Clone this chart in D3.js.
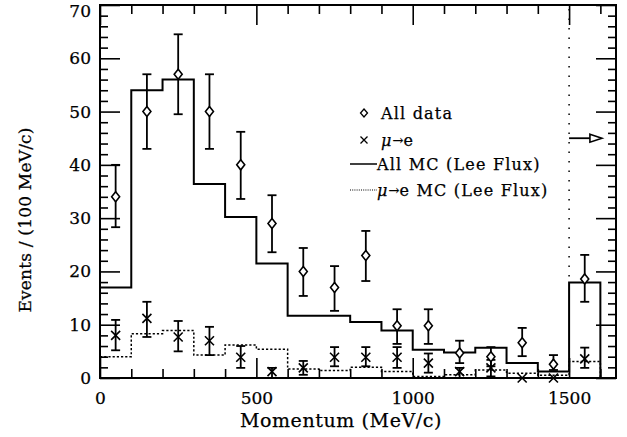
<!DOCTYPE html>
<html>
<head>
<meta charset="utf-8">
<script src="https://cdn.jsdelivr.net/npm/d3@7"></script>
<style>
  body { margin: 0; background: #fff; }
  svg { display: block; }
  text { font-family: "DejaVu Serif", serif; fill: #000; stroke: #000; stroke-width: 0.25; }
</style>
</head>
<body>
<svg id="chart" width="627" height="437"></svg>
<script>
// bin centres (MeV/c), 100 MeV/c wide
const momentum = [50, 150, 250, 350, 450, 550, 650, 750, 850, 950, 1050, 1150, 1250, 1350, 1450, 1550];

// all data (diamonds) with error bar ends
const allData = [34, 50, 57, 50, 40, 29, 20, 17, 23, 9.8, 9.8, 4.7, 4, 6.6, 2.6, 18.6];
const allLow  = [28.3, 43, 49.5, 43, 33.6, 23.6, 15.4, 12.6, 18.2, 6.4, 6.4, 2.8, 2.2, 4.1, 1.5, 14.3];
const allHigh = [40, 57, 64.5, 57, 46.2, 34.3, 24.4, 21, 27.6, 12.9, 12.9, 7, 5.8, 9.4, 4.3, 23.1];

// mu -> e events (crosses)
const muData = [8, 11.2, 7.7, 7, 3.9, 1.2, 1.9, 3.9, 3.9, 3.9, 2.8, 1.2, 1.9, 0, 0, 3.6];
const muLow  = [5.2, 7.7, 5, 4.3, 1.9, 0, 0.6, 2.2, 2.2, 1.9, 1, 0, 0.3, null, null, 1.9];
const muHigh = [10.9, 14.3, 10.7, 9.6, 6, 1.9, 3.2, 5.8, 5.8, 5.8, 4.6, 1.9, 3.4, null, null, 5.7];

// Monte Carlo histograms (Lee flux)
const mcAll = [17, 54, 56, 36.4, 30.2, 21.5, 11.7, 11.7, 10.5, 8.9, 5.3, 4.8, 5.7, 2.8, 1.2, 17.9];
const mcMu  = [4, 8.3, 8.9, 4.3, 6.2, 5.4, 1.7, 1.4, 2.0, 1.2, 0.3, 0.6, 1.5, 0.9, 0.5, 3.1];

const xMajor = [0, 500, 1000, 1500];
const yMajor = [0, 10, 20, 30, 40, 50, 60, 70];

// overflow marker: cut at 1500 MeV/c, arrow at 45 events
const overflowCut = 1500;
const overflowArrowEnd = 1605;
const overflowLevel = 45;

const legendLabels = ['All data', 'e', 'All MC (Lee Flux)', 'e MC (Lee Flux)'];

class MomentumPlot {
  constructor(id) {
    this.svg = d3.select('#' + id);
    this.left = 100;
    this.right = 616;
    this.top = 5;
    this.bottom = 378;
    this.x = d3.scaleLinear().domain([0, 1650]).range([this.left, this.right]);
    this.y = d3.scaleLinear().domain([0, 70]).range([this.bottom, this.top]);
    this.binWidth = 100;
  }

  draw() {
    this.drawAxes();
    this.drawHistogram(mcAll, null);
    this.drawHistogram(mcMu, '2.2,2');
    this.drawOverflow();
    this.drawCrosses();
    this.drawDiamonds();
    this.drawLegend();
    this.drawTitles();
  }

  drawAxes() {
    var x = this.x, y = this.y;
    var xMinor = d3.range(100, 1700, 100).filter(d => xMajor.indexOf(d) < 0);
    var yMinor = d3.range(0, 71, 2).filter(d => d % 10 !== 0);

    var add = (axis, tx, ty, labels) => {
      var g = this.svg.append('g')
          .attr('transform', 'translate(' + tx + ',' + ty + ')')
          .call(axis);
      g.select('.domain').remove();
      g.selectAll('line').attr('stroke', '#000').attr('stroke-width', 1.6);
      if (labels) {
        g.selectAll('text')
            .attr('font-size', 17)
            .attr('font-family', '"DejaVu Serif", serif')
            .attr('fill', '#000');
      } else {
        g.selectAll('text').remove();
      }
      return g;
    };

    var fmt = d3.format('d');
    var yl = add(d3.axisLeft(y).tickValues(yMajor).tickSize(-20).tickPadding(9).tickFormat(fmt), this.left, 0, true);
    // keep the top label inside the picture
    yl.selectAll('text').filter(d => d === 70).attr('dy', '0.7em');
    add(d3.axisLeft(y).tickValues(yMinor).tickSize(-8), this.left, 0, false);
    add(d3.axisRight(y).tickValues(yMajor).tickSize(-20), this.right, 0, false);
    add(d3.axisRight(y).tickValues(yMinor).tickSize(-8), this.right, 0, false);

    add(d3.axisBottom(x).tickValues(xMajor).tickSize(-20).tickPadding(14).tickFormat(fmt), 0, this.bottom, true);
    add(d3.axisBottom(x).tickValues(xMinor).tickSize(-9), 0, this.bottom, false);
    add(d3.axisTop(x).tickValues(xMajor).tickSize(-20), 0, this.top, false);
    add(d3.axisTop(x).tickValues(xMinor).tickSize(-9), 0, this.top, false);

    this.svg.append('rect')
        .attr('x', this.left)
        .attr('y', this.top)
        .attr('width', this.right - this.left)
        .attr('height', this.bottom - this.top)
        .attr('fill', 'none')
        .attr('stroke', '#000')
        .attr('stroke-width', 2);
  }

  drawHistogram(values, dash) {
    var x = this.x, y = this.y, w = this.binWidth;
    var pts = values.map((v, i) => [momentum[i] - w / 2, v]);
    pts.push([momentum[momentum.length - 1] + w / 2, values[values.length - 1]]);
    pts.push([momentum[momentum.length - 1] + w / 2, 0]);
    var line = d3.line()
        .x(d => x(d[0]))
        .y(d => y(d[1]))
        .curve(d3.curveStepAfter);
    this.svg.append('path')
        .attr('d', line(pts))
        .attr('fill', 'none')
        .attr('stroke', '#000')
        .attr('stroke-width', dash ? 1.5 : 2)
        .attr('stroke-dasharray', dash);
  }

  drawOverflow() {
    var x = this.x, y = this.y;
    this.svg.append('line')
        .attr('x1', x(overflowCut))
        .attr('x2', x(overflowCut))
        .attr('y1', y(70) + 4)
        .attr('y2', y(mcAll[mcAll.length - 1]))
        .attr('stroke', '#000')
        .attr('stroke-width', 1.5)
        .attr('stroke-dasharray', '1.5,8');

    var tip = x(overflowArrowEnd), ay = y(overflowLevel);
    this.svg.append('line')
        .attr('x1', x(overflowCut))
        .attr('x2', tip - 12)
        .attr('y1', ay)
        .attr('y2', ay)
        .attr('stroke', '#000')
        .attr('stroke-width', 1.8);
    this.svg.append('path')
        .attr('d', 'M' + (tip - 12) + ',' + (ay - 4) + 'L' + tip + ',' + ay + 'L' + (tip - 12) + ',' + (ay + 4) + 'Z')
        .attr('fill', '#fff')
        .attr('stroke', '#000')
        .attr('stroke-width', 1.6);
  }

  errorBar(cx, lo, hi) {
    var y = this.y;
    var g = this.svg.append('g').attr('stroke', '#000').attr('stroke-width', 1.8);
    g.append('line').attr('x1', cx).attr('x2', cx).attr('y1', y(lo)).attr('y2', y(hi));
    g.append('line').attr('x1', cx - 4.5).attr('x2', cx + 4.5).attr('y1', y(lo)).attr('y2', y(lo));
    g.append('line').attr('x1', cx - 4.5).attr('x2', cx + 4.5).attr('y1', y(hi)).attr('y2', y(hi));
  }

  drawCrosses() {
    var x = this.x, y = this.y;
    muData.forEach((v, i) => {
      var cx = x(momentum[i]);
      if (muLow[i] !== null) this.errorBar(cx, muLow[i], muHigh[i]);
      this.svg.append('path')
          .attr('transform', 'translate(' + cx + ',' + y(v) + ')')
          .attr('d', 'M-4.5,-4.5L4.5,4.5M-4.5,4.5L4.5,-4.5')
          .attr('stroke', '#000')
          .attr('stroke-width', 1.6);
    });
  }

  drawDiamonds() {
    var x = this.x, y = this.y;
    allData.forEach((v, i) => {
      var cx = x(momentum[i]);
      this.errorBar(cx, allLow[i], allHigh[i]);
      this.svg.append('path')
          .attr('transform', 'translate(' + cx + ',' + y(v) + ')')
          .attr('d', 'M0,-5L4,0L0,5L-4,0Z')
          .attr('fill', '#fff')
          .attr('stroke', '#000')
          .attr('stroke-width', 1.6);
    });
  }

  legendText(tx, ty, label, mu) {
    var t = this.svg.append('text')
        .attr('x', tx)
        .attr('y', ty)
        .attr('font-size', 16)
        .attr('letter-spacing', 1.2);
    if (mu) {
      t.append('tspan').attr('font-style', 'italic').text('\u03bc');
      t.append('tspan').attr('font-size', 13).attr('letter-spacing', 0).attr('dy', -1).text('\u2192');
      t.append('tspan').attr('dy', 1).text(label);
    } else {
      t.text(label);
    }
  }

  drawLegend() {
    var mx = 364, tx = 381;
    this.svg.append('path')
        .attr('transform', 'translate(' + mx + ',113)')
        .attr('d', 'M0,-4L3.5,0L0,4L-3.5,0Z')
        .attr('fill', 'none').attr('stroke', '#000').attr('stroke-width', 1.3);
    this.legendText(tx, 119, legendLabels[0], false);

    this.svg.append('path')
        .attr('transform', 'translate(' + mx + ',140)')
        .attr('d', 'M-3.5,-3.5L3.5,3.5M-3.5,3.5L3.5,-3.5')
        .attr('stroke', '#000').attr('stroke-width', 1.3);
    this.legendText(tx, 146, legendLabels[1], true);

    this.svg.append('line')
        .attr('x1', 350).attr('x2', 377).attr('y1', 164).attr('y2', 164)
        .attr('stroke', '#000').attr('stroke-width', 1.5);
    this.legendText(377, 170, legendLabels[2], false);

    this.svg.append('line')
        .attr('x1', 350).attr('x2', 377).attr('y1', 190).attr('y2', 190)
        .attr('stroke', '#000').attr('stroke-width', 1.2).attr('stroke-dasharray', '1,1.2');
    this.legendText(377, 196, legendLabels[3], true);
  }

  drawTitles() {
    this.svg.append('text')
        .attr('x', 341)
        .attr('y', 427)
        .attr('text-anchor', 'middle')
        .attr('font-size', 19)
        .attr('letter-spacing', 0.6)
        .text('Momentum (MeV/c)');

    this.svg.append('text')
        .attr('transform', 'translate(31,220) rotate(-90)')
        .attr('text-anchor', 'middle')
        .attr('font-size', 17)
        .attr('letter-spacing', 0.2)
        .text('Events / (100 MeV/c)');
  }
}

new MomentumPlot('chart').draw();
</script>
</body>
</html>
